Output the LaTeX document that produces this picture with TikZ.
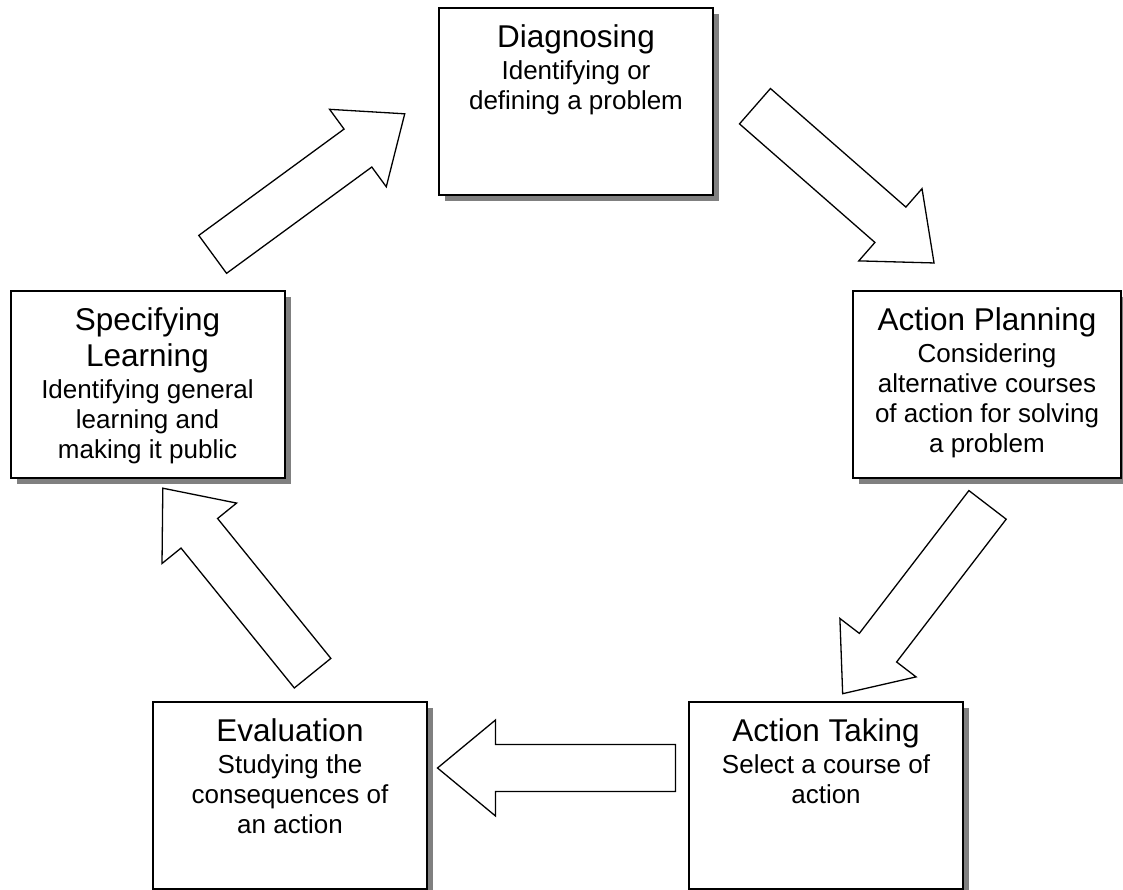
\documentclass[tikz,border=0pt]{standalone}
\usepackage{fontspec}
\setmainfont{Liberation Sans}
\usetikzlibrary{positioning,shadows}
\newcommand{\stagetitle}[1]{{\fontsize{31.5}{36}\selectfont #1}}

\begin{document}
\begin{tikzpicture}[x=1pt,y=1pt,
stagebox/.style={rectangle, draw=black, fill=white, line width=2pt, minimum width=274pt, minimum height=187pt, inner sep=0pt, drop shadow={shadow xshift=6pt, shadow yshift=-6pt, fill=gray, opacity=1}},
stagetext/.style={align=center, inner sep=0pt, font=\fontsize{26}{30}\selectfont}, node distance=17pt,
blockarrow/.pic={\draw[line width=1.3pt, fill=white] (-119,-23.5) -- (61,-23.5) -- (61,-48) -- (119,0) -- (61,48) -- (61,23.5) -- (-119,23.5) -- cycle;},
]
\useasboundingbox (0,0) rectangle (1123,890);
\node[stagebox] (1) at (576,788.5) {};
\node[stagebox, minimum width=268pt] (2) at (987,505) {};
\node[stagebox] (3) at (826,94.5) {};
\node[stagebox] (4) at (290,94.5) {};
\node[stagebox] (5) at (147.5,505) {};
%%%
%% Texts
\node[stagetext] (t1) [below=of 1.north] {\stagetitle{Diagnosing}\\[2pt] Identifying or\\ defining a problem};
\node[stagetext] (t2) [below=of 2.north] {\stagetitle{Action Planning}\\[2pt] Considering\\ alternative courses\\ of action for solving\\ a problem};
\node[stagetext] (t3) [below=of 3.north] {\stagetitle{Action Taking}\\[2pt] Select a course of\\ action};
\node[stagetext] (t4) [below=of 4.north] {\stagetitle{Evaluation}\\[2pt] Studying the\\ consequences of\\ an action};
\node[stagetext] (t5) [below=of 5.north] {\stagetitle{Specifying}\\[6pt] \stagetitle{Learning}\\[2pt] Identifying general\\ learning and\\ making it public};
%%%
%% Arrows
\pic[rotate=36.2] (a1) at (308.7,705.9) {blockarrow};
\pic[rotate=-41.2] (a2) at (844.5,705.4) {blockarrow};
\pic[rotate=-127.5] (a3) at (915.1,290.7) {blockarrow};
\pic[rotate=180] (a4) at (556.5,122) {blockarrow};
\pic[rotate=129] (a5) at (237.7,309.3) {blockarrow};
\end{tikzpicture}
\end{document}
